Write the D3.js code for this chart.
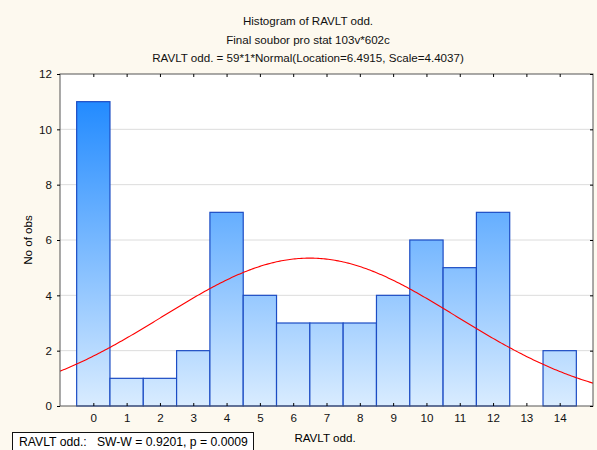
<!DOCTYPE html>
<html>
<head>
<meta charset="utf-8">
<script src="https://cdn.jsdelivr.net/npm/d3@7"></script>
<style>
  body { margin: 0; background: #fdf9ef; }
  svg { display: block; font-family: "Liberation Sans", Arial, sans-serif; }
</style>
</head>
<body>
<div id="chart"></div>
<script>
// Histogram data
const bins = [0, 1, 2, 3, 4, 5, 6, 7, 8, 9, 10, 11, 12, 13, 14];
const counts = [11, 1, 1, 2, 7, 4, 3, 3, 3, 4, 6, 5, 7, 0, 2];
const yTicks = [0, 2, 4, 6, 8, 10, 12];
const titles = [
  'Histogram of RAVLT odd.',
  'Final soubor pro stat 103v*602c',
  'RAVLT odd. = 59*1*Normal(Location=6.4915, Scale=4.4037)'
];
const fitN = 59, fitLoc = 6.4915, fitScale = 4.4037;
const statText = 'RAVLT odd.:   SW-W = 0.9201, p = 0.0009';

const w = 597, h = 450;
// plot box edges (named to avoid clashing with window.top)
const pLeft = 60, pRight = 593, pTop = 74, pBottom = 406;

const svg = d3.select('#chart').append('svg').attr('width', w).attr('height', h);

svg.append('rect').attr('width', w).attr('height', h).attr('fill', '#fdf9ef');

const x = d3.scaleLinear().domain([-1, 15]).range([pLeft, pRight]);
const y = d3.scaleLinear().domain([0, 12]).range([pBottom, pTop]);

// titles
svg.selectAll('text.title')
  .data(titles)
  .enter()
  .append('text')
  .attr('class', 'title')
  .attr('x', 308)
  .attr('y', (d, i) => 25 + i * 18.5)
  .attr('text-anchor', 'middle')
  .attr('font-size', 11.6)
  .attr('fill', '#111')
  .text((d) => d);

// plot background
svg.append('rect')
  .attr('x', pLeft).attr('y', pTop)
  .attr('width', pRight - pLeft).attr('height', pBottom - pTop)
  .attr('fill', '#fff');

// gridlines
svg.append('g')
  .selectAll('line')
  .data(yTicks.filter((d) => d > 0 && d < 12))
  .enter()
  .append('line')
  .attr('x1', pLeft).attr('x2', pRight)
  .attr('y1', (d) => y(d)).attr('y2', (d) => y(d))
  .attr('stroke', '#dcdcdc')
  .attr('stroke-width', 1);

// bar gradient spans the whole plot height
const grad = svg.append('defs').append('linearGradient')
  .attr('id', 'barGrad')
  .attr('gradientUnits', 'userSpaceOnUse')
  .attr('x1', 0).attr('x2', 0)
  .attr('y1', pTop).attr('y2', pBottom);
grad.append('stop').attr('offset', '0%').attr('stop-color', '#1282ff');
grad.append('stop').attr('offset', '100%').attr('stop-color', '#d9ecff');

svg.append('clipPath').attr('id', 'plotClip')
  .append('rect')
  .attr('x', pLeft).attr('y', pTop)
  .attr('width', pRight - pLeft).attr('height', pBottom - pTop);

// bars
svg.append('g')
  .selectAll('rect')
  .data(bins.filter((d, i) => counts[i] > 0))
  .enter()
  .append('rect')
  .attr('x', (d) => x(d - 0.5))
  .attr('y', (d) => y(counts[bins.indexOf(d)]))
  .attr('width', x(1) - x(0))
  .attr('height', (d) => pBottom - y(counts[bins.indexOf(d)]))
  .attr('fill', 'url(#barGrad)')
  .attr('stroke', '#1c4cc4')
  .attr('stroke-width', 1.2);

// fitted normal curve
const norm = (v) =>
  fitN * Math.exp(-0.5 * Math.pow((v - fitLoc) / fitScale, 2)) /
  (fitScale * Math.sqrt(2 * Math.PI));
const curvePts = d3.range(-1, 15.01, 0.05);
svg.append('path')
  .datum(curvePts)
  .attr('clip-path', 'url(#plotClip)')
  .attr('d', d3.line().x((d) => x(d)).y((d) => y(norm(d))))
  .attr('fill', 'none')
  .attr('stroke', '#ff0000')
  .attr('stroke-width', 1.1);

// frame
svg.append('rect')
  .attr('x', pLeft).attr('y', pTop)
  .attr('width', pRight - pLeft).attr('height', pBottom - pTop)
  .attr('fill', 'none')
  .attr('stroke', '#555')
  .attr('stroke-width', 1);

// axes
const xAxis = d3.axisBottom(x).tickValues(bins).tickSize(-3).tickPadding(8);
svg.append('g')
  .attr('transform', 'translate(0,' + pBottom + ')')
  .call(xAxis)
  .call((g) => g.select('.domain').remove())
  .call((g) => g.selectAll('text').attr('font-size', 11.6).attr('fill', '#111'));

const xTop = d3.axisTop(x).tickValues(bins).tickSize(-3).tickFormat('');
svg.append('g')
  .attr('transform', 'translate(0,' + pTop + ')')
  .call(xTop)
  .call((g) => g.select('.domain').remove());

const yAxis = d3.axisLeft(y).tickValues(yTicks).tickSize(3).tickPadding(5);
svg.append('g')
  .attr('transform', 'translate(' + pLeft + ',0)')
  .call(yAxis)
  .call((g) => g.select('.domain').remove())
  .call((g) => g.selectAll('text').attr('font-size', 11.6).attr('fill', '#111'));

const yRight = d3.axisRight(y).tickValues(yTicks).tickSize(-3).tickFormat('');
svg.append('g')
  .attr('transform', 'translate(' + pRight + ',0)')
  .call(yRight)
  .call((g) => g.select('.domain').remove());

svg.selectAll('.tick text').attr('font-family', null);

// axis titles
svg.append('text')
  .attr('x', 325).attr('y', 442)
  .attr('text-anchor', 'middle')
  .attr('font-size', 11.6)
  .text('RAVLT odd.');

svg.append('text')
  .attr('transform', 'translate(32,' + (pTop + pBottom) / 2 + ') rotate(-90)')
  .attr('text-anchor', 'middle')
  .attr('font-size', 11.6)
  .text('No of obs');

// stat box
svg.append('rect')
  .attr('x', 12.5).attr('y', 432.5)
  .attr('width', 241).attr('height', 22)
  .attr('fill', '#fff')
  .attr('stroke', '#111');
svg.append('text')
  .attr('x', 19).attr('y', 446)
  .attr('font-size', 12.2)
  .style('white-space', 'pre')
  .text(statText);
</script>
</body>
</html>
